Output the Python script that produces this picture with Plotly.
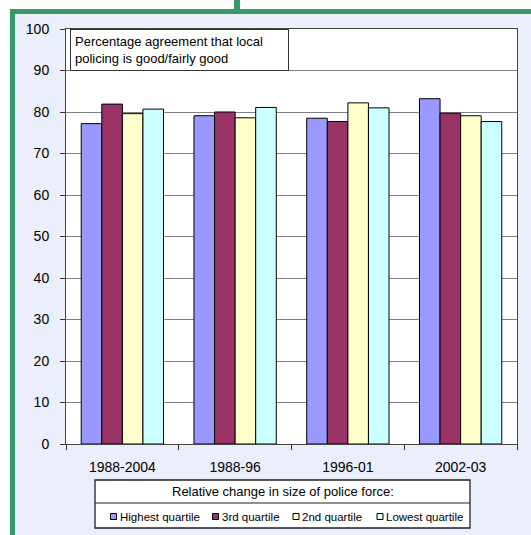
import plotly.graph_objects as go

# Survey periods and share (%) agreeing that local policing is good/fairly good,
# split by quartile of relative change in police force size
periods = ["1988-2004", "1988-96", "1996-01", "2002-03"]
quartiles = ["Highest quartile", "3rd quartile", "2nd quartile", "Lowest quartile"]
highest = [77.2, 79.1, 78.5, 83.2]
third = [81.9, 80.0, 77.7, 79.7]
second = [79.6, 78.6, 82.2, 79.1]
lowest = [80.7, 81.1, 81.0, 77.7]
series_values = [highest, third, second, lowest]
colors = ["#9999ff", "#993366", "#ffffcc", "#ccffff"]
y_ticks = list(range(0, 101, 10))

FONT = "Liberation Sans, Arial, sans-serif"
W, H = 531, 535
ML, MR, MT, MB = 66, 14, 29, 91
PW, PH = W - ML - MR, H - MT - MB


def px(x):
    """Pixel x -> paper x."""
    return (x - ML) / PW


def py(y):
    """Pixel y (from top) -> paper y."""
    return (H - MB - y) / PH


fig = go.Figure()
for name, vals, col in zip(quartiles, series_values, colors):
    fig.add_trace(go.Bar(
        x=periods, y=vals, name=name,
        marker=dict(color=col, line=dict(color="#000000", width=1)),
        showlegend=False,
    ))

GREEN = "#349a67"
BG = "#eaeffb"
shapes = [
    # white strips outside the green frame
    dict(type="rect", xref="paper", yref="paper", x0=px(0), x1=px(W), y0=py(0), y1=py(9),
         fillcolor="white", line_width=0, layer="below"),
    dict(type="rect", xref="paper", yref="paper", x0=px(0), x1=px(10), y0=py(0), y1=py(H),
         fillcolor="white", line_width=0, layer="below"),
    # green frame
    dict(type="rect", xref="paper", yref="paper", x0=px(10), x1=px(W), y0=py(9), y1=py(14),
         fillcolor=GREEN, line_width=0, layer="below"),
    dict(type="rect", xref="paper", yref="paper", x0=px(10), x1=px(15), y0=py(9), y1=py(H),
         fillcolor=GREEN, line_width=0, layer="below"),
    dict(type="rect", xref="paper", yref="paper", x0=px(234), x1=px(240), y0=py(0), y1=py(10),
         fillcolor=GREEN, line_width=0, layer="below"),
    # legend box with title row separator
    dict(type="rect", xref="paper", yref="paper", x0=px(95), x1=px(470), y0=py(480), y1=py(528),
         fillcolor="white", line=dict(color="#222222", width=1.3)),
    dict(type="line", xref="paper", yref="paper", x0=px(95), x1=px(470), y0=py(503), y1=py(503),
         line=dict(color="#222222", width=1)),
]

annotations = [
    dict(xref="paper", yref="paper", x=px(70), y=1, xanchor="left", yanchor="top",
         text="Percentage agreement that local<br>policing is good/fairly good",
         align="left", showarrow=False, bgcolor="white", bordercolor="#333333",
         borderwidth=1, borderpad=4, width=209,
         font=dict(family=FONT, size=13, color="#000000")),
    dict(xref="paper", yref="paper", x=px(282.5), y=py(491.5), xanchor="center", yanchor="middle",
         text="Relative change in size of police force:", showarrow=False,
         font=dict(family=FONT, size=13, color="#000000")),
]

# hand-built legend row: small outlined swatch followed by the label
swatch_x = [110.5, 212.5, 293.0, 377.0]
for name, col, sx in zip(quartiles, colors, swatch_x):
    shapes.append(dict(type="rect", xref="paper", yref="paper",
                       x0=px(sx), x1=px(sx + 6), y0=py(513.5), y1=py(519.5),
                       fillcolor=col, line=dict(color="#000000", width=1)))
    annotations.append(dict(xref="paper", yref="paper", x=px(sx + 7), y=py(516.5),
                            xanchor="left", yanchor="middle", text=name, showarrow=False,
                            font=dict(family=FONT, size=11.5, color="#000000")))

fig.update_layout(
    width=W, height=H,
    margin=dict(l=ML, r=MR, t=MT, b=MB),
    paper_bgcolor=BG, plot_bgcolor="white",
    barmode="group", bargap=0.27, bargroupgap=0,
    font=dict(family=FONT, size=14, color="#000000"),
    shapes=shapes, annotations=annotations,
    xaxis=dict(
        type="category", tickson="boundaries", ticks="outside", ticklen=5,
        tickcolor="#333333", showline=True, linecolor="#444444", linewidth=1,
        mirror=True, showgrid=False, ticklabelstandoff=10,
        tickfont=dict(family=FONT, size=14, color="#000000"),
    ),
    yaxis=dict(
        range=[0, 100], tickvals=y_ticks, ticks="outside", ticklen=5,
        tickcolor="#333333", showline=True, linecolor="#444444", linewidth=1,
        mirror=True, showgrid=True, gridcolor="#808080", gridwidth=1,
        zeroline=False, ticklabelstandoff=8,
        tickfont=dict(family=FONT, size=14, color="#000000"),
    ),
)

fig.write_html("out.html")
